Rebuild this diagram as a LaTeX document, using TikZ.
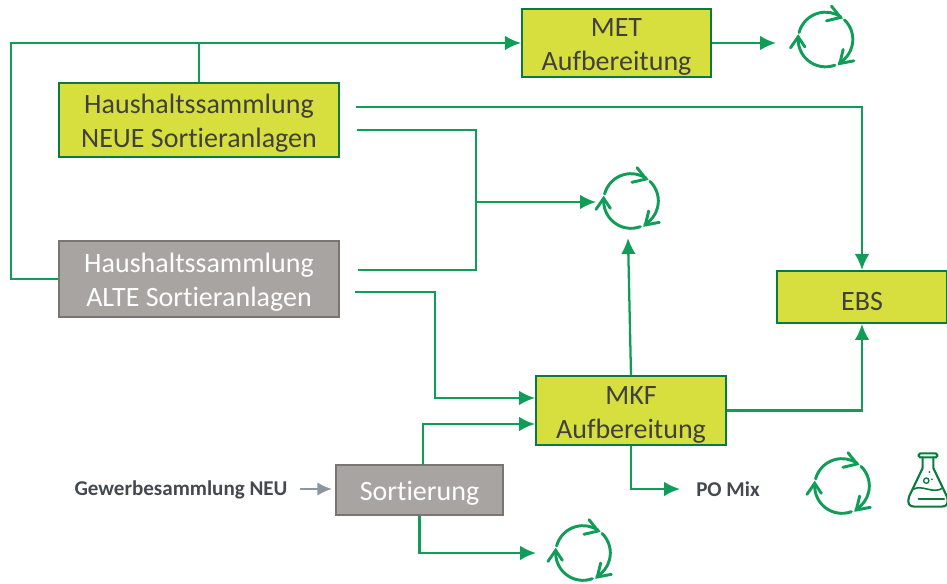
\documentclass[tikz,border=0pt]{standalone}
\usepackage{fontspec}
\setmainfont[Ligatures=NoCommon]{Carlito}
\usetikzlibrary{arrows.meta}
\definecolor{lime}{HTML}{D7DF3F}
\definecolor{limeedge}{HTML}{0B7A3E}
\definecolor{flow}{HTML}{0F9D58}
\definecolor{stone}{HTML}{A8A4A2}
\definecolor{stoneedge}{HTML}{7A7573}
\definecolor{slate}{HTML}{8B96A0}
\definecolor{inktext}{HTML}{44494F}
\newcommand{\toproom}{\rule{0pt}{20pt}}
\tikzset{
  limebox/.style={draw=limeedge, line width=1.5pt, fill=lime, text=black!75, align=center, font=\fontsize{21}{25.5}\selectfont, inner sep=0pt},
  greybox/.style={draw=stoneedge, line width=1.5pt, fill=stone, text=white, align=center, font=\fontsize{21}{25.5}\selectfont, inner sep=0pt},
  flowline/.style={draw=flow, line width=1.7pt},
  flowarrow/.style={flowline, -{Latex[length=12pt,width=11pt]}},
  smalltext/.style={text=inktext, font=\bfseries\fontsize{15.8}{18}\selectfont},
  recycle/.pic={
    \draw[flow, line width=2.2pt, line cap=round] (165:20.5pt) arc (165:56:20.5pt);
    \draw[flow, line width=2.2pt, line cap=round] (46:20.5pt) arc (46:-60:20.5pt);
    \draw[flow, line width=2.2pt, line cap=round] (-70:20.5pt) arc (-70:-185:20.5pt);
    \draw[flow, line width=2.2pt, line cap=round] (4.5pt,25pt) -- (11.25pt,16.5pt) -- (0.75pt,14pt);
    \draw[flow, line width=2.2pt, line cap=round] (13.25pt,-7.5pt) -- (10.75pt,-18pt) -- (21.25pt,-16pt);
    \draw[flow, line width=2.2pt, line cap=round] (-26.25pt,-6.25pt) -- (-20.5pt,2pt) -- (-15.5pt,-5.5pt);
  },
  flask/.pic={
    \draw[limeedge, line width=1.6pt, line join=round, line cap=round]
      (-4pt,17pt) -- (-4pt,9pt) -- (-14pt,-12pt)
      .. controls (-16pt,-18pt) and (-14pt,-20pt) .. (-10pt,-20pt) -- (10pt,-20pt)
      .. controls (14pt,-20pt) and (16pt,-18pt) .. (14pt,-12pt) -- (4pt,9pt) -- (4pt,17pt);
    \draw[limeedge, line width=1.6pt, rounded corners=1.2pt] (-7pt,17pt) rectangle (7pt,20pt);
    \draw[limeedge, line width=1.2pt] (-11pt,-7pt) .. controls (-5pt,-3pt) and (4pt,-11pt) .. (11pt,-6pt);
    \draw[limeedge, line width=1.6pt, line cap=round] (-7pt,-14.5pt) -- (12pt,-14.5pt);
    \draw[limeedge, line width=1pt] (-1.3pt,-0.5pt) circle (2pt);
    \fill[limeedge] (3pt,0.5pt) circle (0.7pt) (1pt,6pt) circle (0.7pt);
  }
}
\begin{document}
\begin{tikzpicture}[x=0.75pt, y=-0.75pt]
\useasboundingbox (0,0) rectangle (947,584);

% Boxes
\node[limebox, minimum width=141.8pt, minimum height=51pt] (met) at (616.5,43) {\toproom MET\\Aufbereitung};
\node[limebox, minimum width=210pt, minimum height=55.5pt] (neue) at (199,120) {\toproom Haushaltssammlung\\NEUE Sortieranlagen};
\node[greybox, minimum width=210pt, minimum height=57pt] (alte) at (199,279) {\toproom Haushaltssammlung\\ALTE Sortieranlagen};
\node[limebox, minimum width=127.5pt, minimum height=39pt] (ebs) at (862,297) {\toproom EBS};
\node[limebox, minimum width=142.5pt, minimum height=51.8pt] (mkf) at (631,410.5) {\toproom MKF\\Aufbereitung};
\node[greybox, minimum width=125.2pt, minimum height=37.5pt] (sort) at (419.5,490) {\toproom Sortierung};

% Labels
\node[smalltext] (gew) at (181,489.5) {Gewerbesammlung NEU};
\node[smalltext] (po) at (728,489) {PO Mix};

% Icons
\pic at (825.5,39.5) {recycle};
\pic at (631,201) {recycle};
\pic at (842,486) {recycle};
\pic at (583,553) {recycle};
\pic at (928,480) {flask};

% Free ends
\coordinate (metout) at (776,43);
\coordinate (neueA) at (356,107);
\coordinate (neueB) at (357,130);
\coordinate (alteA) at (358,270);
\coordinate (alteB) at (355,292);
\coordinate (loopin) at (596,202);
\coordinate (loopup) at (628,238);
\coordinate (loopout) at (536,553);
\coordinate (poin) at (680,489);
\coordinate (gewout) at (300,489);
\coordinate (gewin) at (332,489);

% Connectors
\draw[flowarrow] (alte.west) -- (11,279) -- (11,43) -- (met.west);
\draw[flowline] (199,43) -- (neue.north);
\draw[flowarrow] (met.east) -- (metout);
\draw[flowarrow] (neueA) -- (862,107) -- (ebs.north);
\draw[flowline] (neueB) -- (476,130) -- (476,202);
\draw[flowline] (alteA) -- (476,270) -- (476,202);
\draw[flowarrow] (476,202) -- (loopin);
\draw[flowarrow] (alteB) -- (435,292) -- (435,398) -- (mkf.west |- 435,398);
\draw[flowarrow] (mkf.north) -- (loopup);
\draw[flowarrow] (mkf.east) -- (862,410.5) -- (ebs.south);
\draw[flowarrow] (423,465) -- (423,424) -- (mkf.west |- 423,424);
\draw[flowarrow] (mkf.south) -- (631,489) -- (poin);
\draw[flowarrow] (sort.south) -- (419.5,553) -- (loopout);
\draw[slate, line width=1.5pt, -{Latex[length=11pt,width=10pt]}] (gewout) -- (gewin);
\end{tikzpicture}
\end{document}
